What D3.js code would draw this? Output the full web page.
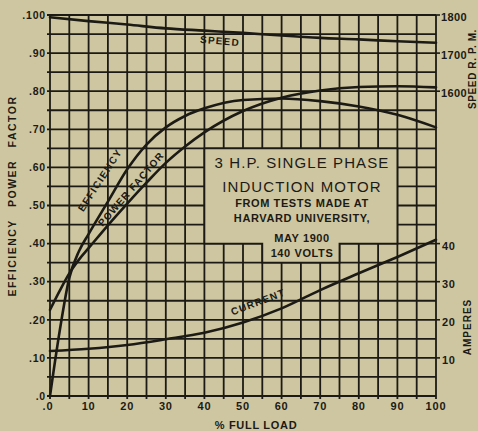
<!DOCTYPE html>
<html>
<head>
<meta charset="utf-8">
<script src="https://cdn.jsdelivr.net/npm/d3@7"></script>
<style>
  html, body { margin: 0; padding: 0; background: #cec6a0; }
  svg { display: block; }
  text { font-family: "Liberation Sans", Arial, sans-serif; fill: #1c1a15; }
</style>
</head>
<body>
<div id="chart"></div>
<script>
// Per cent of full load at which the readings were taken
const loadPct = [0, 2.5, 5, 7.5, 10, 15, 20, 25, 30, 35, 40, 50, 60, 70, 80, 90, 100];
// Efficiency (fraction)
const efficiency = [0, 0.17, 0.31, 0.38, 0.425, 0.51, 0.595, 0.66, 0.705, 0.735, 0.755, 0.777, 0.781, 0.774, 0.76, 0.738, 0.705];
// Power factor (fraction)
const powerFactor = [0.226, 0.276, 0.322, 0.358, 0.388, 0.448, 0.505, 0.56, 0.612, 0.655, 0.692, 0.748, 0.783, 0.802, 0.811, 0.813, 0.81];

// Speed in R.P.M. and line current in amperes
const loadPct2 = [0, 10, 20, 30, 40, 50, 60, 70, 80, 90, 100];
const speedRpm = [1794, 1784, 1775, 1765, 1759, 1753, 1746, 1740, 1736, 1731, 1727];
const currentAmp = [11.8, 12.4, 13.4, 14.9, 16.6, 19.3, 23.0, 27.8, 32.2, 36.5, 41.0];

// Axis tick values
const xTicks = [0, 10, 20, 30, 40, 50, 60, 70, 80, 90, 100];
const xTickLabels = [".0", "10", "20", "30", "40", "50", "60", "70", "80", "90", "100"];
const yTicks = [0, 0.1, 0.2, 0.3, 0.4, 0.5, 0.6, 0.7, 0.8, 0.9, 1.0];
const yTickLabels = [".0", ".10", ".20", ".30", ".40", ".50", ".60", ".70", ".80", ".90", ".100"];
const rpmTicks = [1600, 1700, 1800];
const ampTicks = [10, 20, 30, 40];

// Title panel lines
const titleLines = ["3 H.P. SINGLE PHASE", "INDUCTION MOTOR", "FROM TESTS MADE AT", "HARVARD UNIVERSITY,", "MAY 1900", "140 VOLTS"];

const W = 478, H = 431;
const ink = "#1c1a15";
const paper = "#cec6a0";

const svg = d3.select("#chart").append("svg").attr("width", W).attr("height", H);
svg.append("rect").attr("width", W).attr("height", H).attr("fill", paper);

const x = d3.scaleLinear().domain([0, 100]).range([50, 436]);
const y = d3.scaleLinear().domain([0, 1]).range([396, 15]);
const yRpm = d3.scaleLinear().domain([800, 1800]).range([396, 15]);
const yAmp = d3.scaleLinear().domain([0, 100]).range([396, 15]);

// Grid: every 5 % of load, every .05 on the left scale
const grid = svg.append("g").attr("stroke", ink).attr("stroke-width", 1.8).attr("fill", "none");
d3.range(0, 101, 5).forEach(v => {
  grid.append("line").attr("x1", x(v)).attr("x2", x(v)).attr("y1", y(1)).attr("y2", y(0) + 3);
});
d3.range(0, 21).forEach(i => {
  const v = i * 0.05;
  grid.append("line").attr("x1", x(0) - 3).attr("x2", x(100)).attr("y1", y(v)).attr("y2", y(v));
});

// Title panel blanking part of the grid
const panel = [[40, 0.65], [90, 0.65], [90, 0.40], [75, 0.40], [75, 0.35], [55, 0.35], [55, 0.40], [40, 0.40]];
svg.append("path")
  .attr("d", d3.line().x(d => x(d[0])).y(d => y(d[1]))(panel) + "Z")
  .attr("fill", paper).attr("stroke", ink).attr("stroke-width", 1.8);

const titleG = svg.append("g").attr("text-anchor", "middle");
const titleSpec = [
  { y: 168, size: 15, weight: "normal", ls: 1.1 },
  { y: 192, size: 15, weight: "normal", ls: 1.1 },
  { y: 207, size: 11, weight: "bold", ls: 0.6 },
  { y: 222, size: 11, weight: "bold", ls: 0.6 },
  { y: 242, size: 11, weight: "bold", ls: 0.6 },
  { y: 257, size: 11, weight: "bold", ls: 0.6 }
];
titleLines.forEach((t, i) => {
  const s = titleSpec[i];
  titleG.append("text").attr("x", 302).attr("y", s.y)
    .attr("font-size", s.size).attr("font-weight", s.weight)
    .attr("letter-spacing", s.ls).text(t);
});

// Right-hand tick stubs
const stubs = svg.append("g").attr("stroke", ink).attr("stroke-width", 1.6);
rpmTicks.forEach(v => stubs.append("line").attr("x1", x(100)).attr("x2", x(100) + 4).attr("y1", yRpm(v)).attr("y2", yRpm(v)));
ampTicks.forEach(v => stubs.append("line").attr("x1", x(100)).attr("x2", x(100) + 4).attr("y1", yAmp(v)).attr("y2", yAmp(v)));

// Curves
const curveG = svg.append("g").attr("fill", "none").attr("stroke", ink).attr("stroke-width", 2.6)
  .attr("stroke-linejoin", "round").attr("stroke-linecap", "round");
const lineFrac = d3.line().x(d => x(d[0])).y(d => y(d[1])).curve(d3.curveMonotoneX);
curveG.append("path").attr("d", lineFrac(d3.zip(loadPct, efficiency)));
curveG.append("path").attr("d", lineFrac(d3.zip(loadPct, powerFactor)));
curveG.append("path").attr("d", d3.line().x(d => x(d[0])).y(d => yRpm(d[1])).curve(d3.curveMonotoneX)(d3.zip(loadPct2, speedRpm)));
curveG.append("path").attr("d", d3.line().x(d => x(d[0])).y(d => yAmp(d[1])).curve(d3.curveMonotoneX)(d3.zip(loadPct2, currentAmp)));

// Curve labels
function curveLabel(t, cx, cy, angle, ls) {
  svg.append("text").attr("transform", `translate(${cx},${cy}) rotate(${angle})`)
    .attr("text-anchor", "middle").attr("dominant-baseline", "central")
    .attr("font-size", 10).attr("font-weight", "bold").attr("letter-spacing", ls).text(t);
}
curveLabel("SPEED", 220, 41, 5, 1.2);
curveLabel("EFFICIENCY", 100, 180, -57, 1.3);
curveLabel("POWER FACTOR", 131, 189, -49, 1.1);
curveLabel("CURRENT", 258, 302, -21, 1.2);

// Left scale labels
const leftG = svg.append("g").attr("text-anchor", "end").attr("font-size", 10.5).attr("font-weight", "bold");
yTicks.forEach((v, i) => {
  leftG.append("text").attr("x", 46).attr("y", y(v)).attr("dy", "0.36em")
    .attr("letter-spacing", 0.8).text(yTickLabels[i]);
});

// Bottom scale labels
const botG = svg.append("g").attr("text-anchor", "middle").attr("font-size", 11).attr("font-weight", "bold");
xTicks.forEach((v, i) => {
  botG.append("text").attr("x", x(v) + (i === 0 ? -2 : 0)).attr("y", 410)
    .attr("letter-spacing", 0.8).text(xTickLabels[i]);
});

// Right scale labels
const rightG = svg.append("g").attr("text-anchor", "start").attr("font-size", 11).attr("font-weight", "bold");
rpmTicks.forEach(v => {
  rightG.append("text").attr("x", 441).attr("y", yRpm(v) + 2).attr("dy", "0.36em").attr("letter-spacing", 0.4).text(v);
});
ampTicks.forEach(v => {
  rightG.append("text").attr("x", 442).attr("y", yAmp(v) + 2).attr("dy", "0.36em").attr("letter-spacing", 0.6).text(v);
});

// Axis titles
svg.append("text").attr("transform", "translate(16,196) rotate(-90)")
  .attr("text-anchor", "middle").attr("font-size", 10.5).attr("font-weight", "bold")
  .attr("letter-spacing", 1.5).attr("word-spacing", 8).text("EFFICIENCY POWER FACTOR");
svg.append("text").attr("transform", "translate(476,69) rotate(-90)")
  .attr("text-anchor", "middle").attr("font-size", 10).attr("font-weight", "bold")
  .attr("letter-spacing", 0.6).text("SPEED R. P. M.");
svg.append("text").attr("transform", "translate(471,327) rotate(-90)")
  .attr("text-anchor", "middle").attr("font-size", 10).attr("font-weight", "bold")
  .attr("letter-spacing", 1).text("AMPERES");
svg.append("text").attr("x", 256).attr("y", 429)
  .attr("text-anchor", "middle").attr("font-size", 11).attr("font-weight", "bold")
  .attr("letter-spacing", 0.7).text("% FULL LOAD");
</script>
</body>
</html>
